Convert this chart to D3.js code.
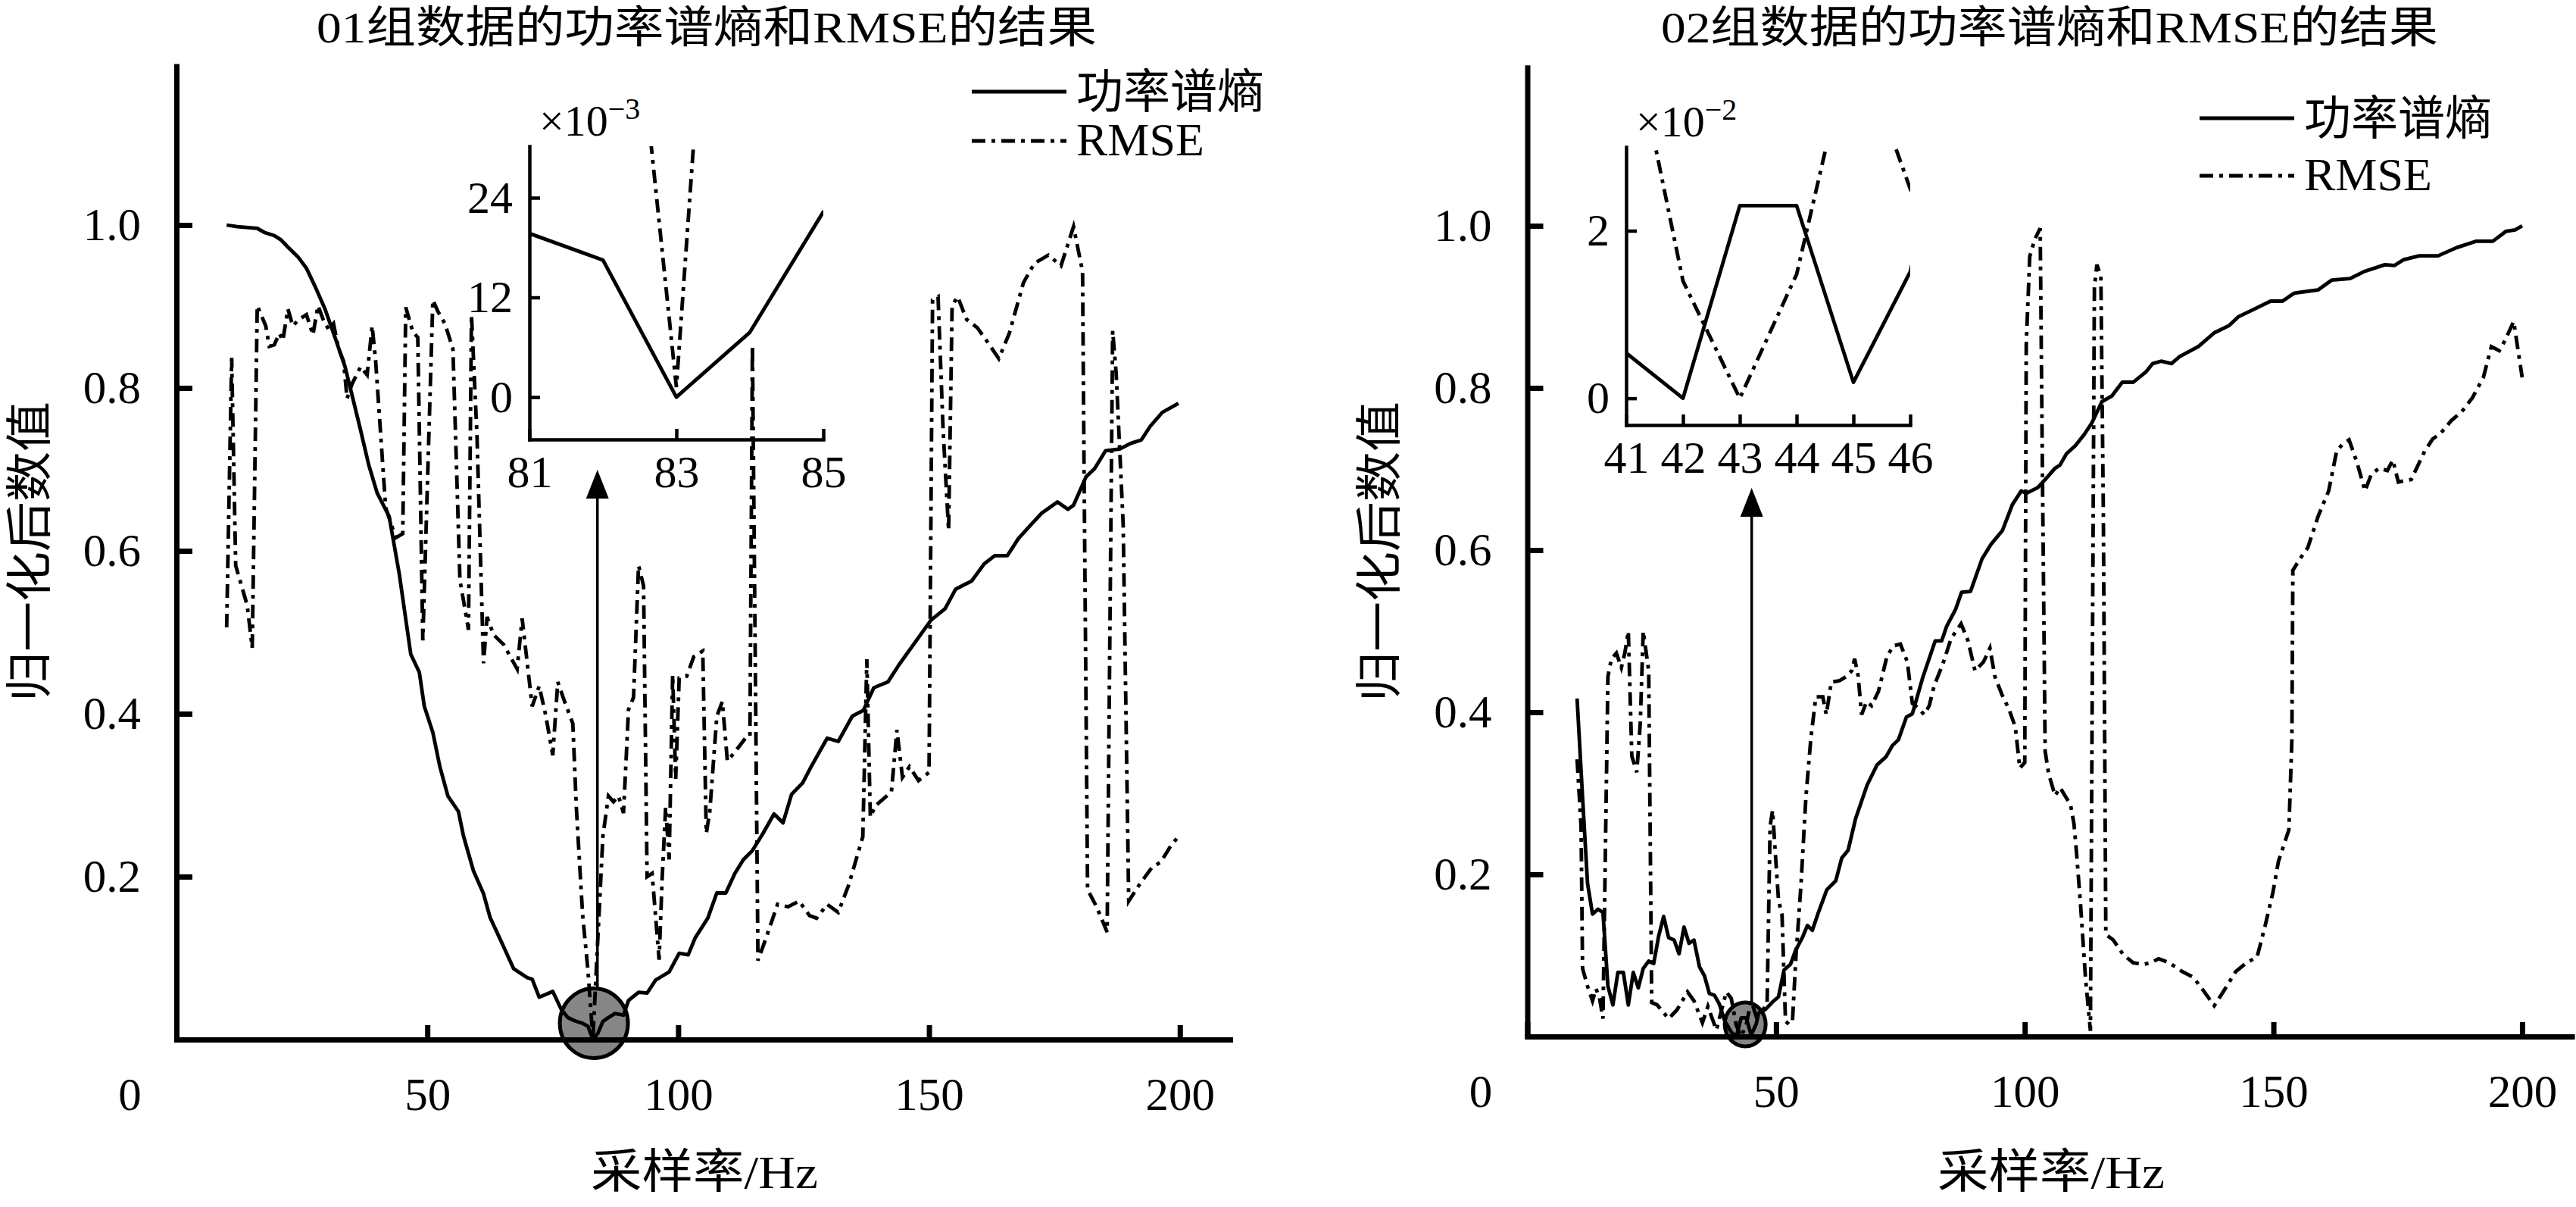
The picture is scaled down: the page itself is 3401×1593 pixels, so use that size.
<!DOCTYPE html>
<html>
<head>
<meta charset="utf-8">
<script src="https://cdn.jsdelivr.net/npm/d3@7"></script>
<style>
    body { margin: 0; background: #fff; }
    svg { display: block; }
    text { font-family: "Liberation Serif", "Noto Sans CJK SC", serif; fill: #000; }
</style>
</head>
<body>
<div id="chart"></div>
<script>
// ---- data: [sampling rate Hz, normalised value] ----
var freqTicks = [0, 50, 100, 150, 200];
var valueTicks = [0.2, 0.4, 0.6, 0.8, 1.0];
var titles = ["01组数据的功率谱熵和RMSE的结果", "02组数据的功率谱熵和RMSE的结果"];
var seriesNames = ["功率谱熵", "RMSE"];

var entropy01 = [[10,1.0],[12.1,0.998],[16.1,0.996],[17.5,0.991],[19.5,0.987],[20.8,0.982],[22.2,0.973],[24.2,0.961],[25.9,0.947],[27.6,0.925],[29.6,0.897],[31.6,0.862],[33.6,0.826],[35.0,0.791],[36.7,0.748],[38.3,0.706],[40.0,0.671],[42.4,0.642],[44.4,0.572],[46.7,0.473],[48.4,0.451],[49.4,0.409],[51.1,0.377],[52.5,0.335],[54.1,0.299],[56.2,0.280],[57.2,0.250],[59.2,0.207],[61.2,0.179],[62.5,0.150],[64.6,0.122],[67.2,0.087],[69.9,0.076],[70.9,0.074],[72.3,0.052],[75.0,0.059],[76.7,0.037],[78.0,0.027],[79.4,0.023],[81,0.0197],[82,0.0165],[83,0],[84,0.0078],[85,0.0223],[86.1,0.027],[87.4,0.032],[89.1,0.030],[90.1,0.048],[92.1,0.058],[93.8,0.057],[95.5,0.073],[98.2,0.083],[100.2,0.106],[102.0,0.104],[103.4,0.125],[105.9,0.149],[107.7,0.180],[109.5,0.180],[111.3,0.204],[113.0,0.221],[114.8,0.232],[116.9,0.253],[119.1,0.277],[120.9,0.266],[122.6,0.301],[124.8,0.315],[126.5,0.335],[129.7,0.370],[131.9,0.366],[134.7,0.397],[136.9,0.404],[139.0,0.432],[141.8,0.439],[144.0,0.460],[146.8,0.484],[150.4,0.515],[153.2,0.529],[155.3,0.553],[158.5,0.563],[161.0,0.584],[163.1,0.594],[165.6,0.594],[167.8,0.615],[170.3,0.632],[172.4,0.646],[175.6,0.660],[177.7,0.651],[178.8,0.656],[181.3,0.691],[183.0,0.701],[185.2,0.723],[188.0,0.725],[190.2,0.732],[192.3,0.736],[194.1,0.753],[196.5,0.770],[199.7,0.781]];

var rmse01 = [[10,0.506],[11,0.837],[11.8,0.582],[14.1,0.533],[15.1,0.481],[16.1,0.901],[17.8,0.876],[18.5,0.851],[19.5,0.853],[20.5,0.867],[21.2,0.858],[22.2,0.897],[23.2,0.876],[24.2,0.883],[25.9,0.890],[27.2,0.865],[28.2,0.901],[29.3,0.883],[30.3,0.872],[31.3,0.879],[32.3,0.848],[33.3,0.833],[34.0,0.787],[35.0,0.805],[36.7,0.826],[38.0,0.816],[39.0,0.876],[39.7,0.833],[41.7,0.653],[43.7,0.616],[45.1,0.621],[45.7,0.899],[47.1,0.869],[48.1,0.862],[49.1,0.490],[51.1,0.908],[52.1,0.894],[53.5,0.879],[55.1,0.848],[56.5,0.564],[57.8,0.518],[58.2,0.503],[58.8,0.890],[59.9,0.741],[61.2,0.462],[61.9,0.519],[63.2,0.497],[65.2,0.485],[67.9,0.455],[68.9,0.517],[70.9,0.409],[72.3,0.434],[73.6,0.398],[75.0,0.349],[76.0,0.439],[77.3,0.416],[79.0,0.388],[79.7,0.285],[80.7,0.179],[81,0.150],[82,0.086],[83,0.0012],[84,0.126],[85,0.250],[86.1,0.299],[87.1,0.292],[88.1,0.299],[89.1,0.278],[90.1,0.405],[91.1,0.420],[92.1,0.582],[93.1,0.557],[93.8,0.200],[94.8,0.204],[96.2,0.098],[96.8,0.197],[97.5,0.285],[98.2,0.221],[98.9,0.448],[99.5,0.320],[100.2,0.444],[101.7,0.446],[103.1,0.470],[104.9,0.477],[105.6,0.253],[106.3,0.280],[107.7,0.397],[108.8,0.415],[109.8,0.342],[111.3,0.353],[113.4,0.370],[114.3,0.372],[114.8,0.853],[115.9,0.097],[117.7,0.128],[119.8,0.166],[121.9,0.163],[124.1,0.170],[126.2,0.152],[127.6,0.149],[129.7,0.166],[131.9,0.156],[134.0,0.190],[136.8,0.249],[137.6,0.467],[138.3,0.273],[139.3,0.287],[142.5,0.304],[143.6,0.380],[144.7,0.322],[146.1,0.335],[147.9,0.318],[150.0,0.328],[150.7,0.908],[151.8,0.912],[152.8,0.749],[153.9,0.625],[154.6,0.901],[155.7,0.912],[157.5,0.884],[159.6,0.874],[161.7,0.856],[163.9,0.836],[166.0,0.867],[168.8,0.929],[171.0,0.953],[173.8,0.963],[176.3,0.950],[178.8,0.998],[180.6,0.943],[180.9,0.701],[181.6,0.184],[183.4,0.163],[185.5,0.132],[186.6,0.870],[187.3,0.818],[188.7,0.632],[189.8,0.170],[191.9,0.190],[194.4,0.211],[196.2,0.218],[198.3,0.239],[199.7,0.249]];

var entropy02 = [[10,0.417],[11.1,0.295],[12.1,0.189],[13.1,0.151],[14.2,0.157],[15.2,0.153],[16.2,0.062],[17.2,0.039],[18.2,0.079],[19.3,0.079],[20.3,0.039],[21.3,0.079],[22.3,0.060],[23.3,0.084],[24.4,0.093],[25.4,0.090],[26.4,0.124],[27.4,0.148],[28.4,0.122],[29.5,0.119],[30.5,0.102],[31.5,0.135],[32.5,0.115],[33.5,0.119],[34.6,0.086],[35.6,0.075],[36.6,0.053],[37.6,0.051],[38.6,0.040],[39.7,0.019],[41,0.0054],[42,0],[43,0.023],[44,0.023],[45,0.0019],[46,0.0151],[46.5,0.029],[47.8,0.033],[49.2,0.042],[50.5,0.049],[51.6,0.082],[52.9,0.089],[53.9,0.106],[55.3,0.122],[56.3,0.137],[57.3,0.131],[58.4,0.151],[60.2,0.181],[62.0,0.192],[63.2,0.220],[64.5,0.230],[66.0,0.269],[68.3,0.310],[70.3,0.335],[72.1,0.345],[73.4,0.359],[74.6,0.366],[76.2,0.394],[77.4,0.398],[79.5,0.443],[82.0,0.488],[83.3,0.488],[84.3,0.506],[86.1,0.527],[87.3,0.548],[89.1,0.549],[91.4,0.589],[93.2,0.607],[95.5,0.624],[97.5,0.656],[99.3,0.673],[100.3,0.670],[102.6,0.677],[104.1,0.687],[106.1,0.701],[107.1,0.705],[108.4,0.719],[110.2,0.729],[112.0,0.743],[113.5,0.757],[115.5,0.783],[117.5,0.790],[119.6,0.807],[121.8,0.807],[124.4,0.820],[125.7,0.830],[127.4,0.833],[129.5,0.830],[131.2,0.839],[134.9,0.851],[138.1,0.868],[141.1,0.877],[143.0,0.888],[146.4,0.898],[149.4,0.907],[151.8,0.907],[154.2,0.917],[159.0,0.921],[161.7,0.933],[165.4,0.935],[168.4,0.944],[172.4,0.952],[174.3,0.951],[176.1,0.958],[179.3,0.963],[183.1,0.963],[186.8,0.973],[190.8,0.981],[194.1,0.981],[196.7,0.993],[198.6,0.995],[200,1.0]];

var rmse02 = [[10,0.342],[10.8,0.259],[11.1,0.084],[12.1,0.062],[13.1,0.044],[13.8,0.059],[14.5,0.048],[15.2,0.022],[16.2,0.444],[16.9,0.466],[17.9,0.473],[18.9,0.455],[19.6,0.473],[20.3,0.500],[21.0,0.346],[22.0,0.326],[22.7,0.386],[23.3,0.500],[24.4,0.451],[25.0,0.042],[26.1,0.039],[28.4,0.022],[30.1,0.033],[32.2,0.055],[33.5,0.044],[35.2,0.017],[36.3,0.037],[38.0,0.008],[40.0,0.055],[41,0.047],[42,0.014],[43,0],[44,0.0148],[45,0.044],[46,0.025],[47,0.030],[48.2,0.040],[48.8,0.259],[49.3,0.279],[49.9,0.222],[50.5,0.168],[51.2,0.150],[51.9,0.019],[52.6,0.015],[53.3,0.019],[54.0,0.099],[55.0,0.186],[56.0,0.295],[57.0,0.368],[58.0,0.419],[59.4,0.419],[60.1,0.397],[61.1,0.437],[62.8,0.439],[64.1,0.444],[65.2,0.451],[65.8,0.466],[66.5,0.445],[67.2,0.397],[68.2,0.413],[69.2,0.408],[70.6,0.426],[72.3,0.469],[73.6,0.482],[75.0,0.484],[76.4,0.462],[77.4,0.411],[78.4,0.406],[79.8,0.397],[80.8,0.408],[81.8,0.433],[83.5,0.459],[85.2,0.491],[87.2,0.509],[88.6,0.488],[90.0,0.451],[91.7,0.462],[93.0,0.479],[94.0,0.444],[95.4,0.422],[96.8,0.404],[98.1,0.382],[99.0,0.331],[100.0,0.338],[100.3,0.854],[101.0,0.962],[102.0,0.983],[103.1,0.997],[103.6,0.666],[104.1,0.352],[104.8,0.324],[106.1,0.297],[107.1,0.307],[109.2,0.286],[109.9,0.262],[110.4,0.227],[111.2,0.164],[112.2,0.073],[113.2,0.007],[114.0,0.924],[114.5,0.952],[115.3,0.938],[115.8,0.645],[116.3,0.126],[117.8,0.119],[119.8,0.101],[121.8,0.091],[123.9,0.089],[125.4,0.091],[126.9,0.096],[129.0,0.091],[131.7,0.080],[133.9,0.073],[136.0,0.056],[138.1,0.038],[140.3,0.059],[142.4,0.080],[144.6,0.091],[146.7,0.098],[148.3,0.136],[149.9,0.178],[151.0,0.216],[153.1,0.255],[153.7,0.366],[153.9,0.575],[155.3,0.589],[156.9,0.603],[159.0,0.642],[161.1,0.673],[162.7,0.722],[163.8,0.730],[165.2,0.736],[166.8,0.708],[168.4,0.673],[169.7,0.694],[171.3,0.701],[172.9,0.698],[174.0,0.711],[175.1,0.684],[177.7,0.687],[180.4,0.722],[182.0,0.737],[183.6,0.744],[185.8,0.760],[187.9,0.771],[190.0,0.788],[192.2,0.813],[193.8,0.851],[195.4,0.846],[196.5,0.858],[198.3,0.882],[200,0.813]];

// zoomed windows
var zoom01TicksX = [81, 83, 85];
var zoom01TicksY = [0, 0.012, 0.024];
var zoom02TicksX = [41, 42, 43, 44, 45, 46];
var zoom02TicksY = [0, 0.02];
// highlighted minimum (Hz, value)
var minPoint01 = [83.2, 0.02];
var minPoint02 = [43.8, 0.015];

var DASHDOT = "18,8,5,8";

/**
 *  Layout of each panel (pixels)
 */
var panels = [
    {
        title: titles[0], entropy: entropy01, rmse: rmse01,
        xr: [233, 1624], y0: 1372, y1: 297, titleX: 933, titleW: 1030,
        ylabX: 40, xlabX: 930,
        legX: 1283, legY: [121, 186],
        mark: minPoint01, markR: [45, 46], arrowF: 83.9, arrowTip: 620,
        zoom: {dx: [81, 85], xr: [699, 1087], dy: [-0.0051, 0.0302], yr: [580, 193],
               ticksX: zoom01TicksX, ticksY: zoom01TicksY, mult: 1000, exp: "−3", labX: 712}
    },
    {
        title: titles[1], entropy: entropy02, rmse: rmse02,
        xr: [2016.5, 3395.6], y0: 1368, y1: 298, titleX: 2706, titleW: 1026,
        ylabX: 1822, xlabX: 2708,
        legX: 2904, legY: [156, 232],
        mark: minPoint02, markR: [27, 29], arrowF: 45.1, arrowTip: 644,
        zoom: {dx: [41, 46], xr: [2147, 2522], dy: [-0.0032, 0.0300], yr: [561, 194],
               ticksX: zoom02TicksX, ticksY: zoom02TicksY, mult: 100, exp: "−2", labX: 2160}
    }
];

var svg = d3.select("#chart").append("svg")
    .attr("width", 3401)
    .attr("height", 1593);

panels.forEach(function (p, pi) {
    var x = d3.scaleLinear().domain([0, 210]).range(p.xr);
    var yPer = p.y0 - p.y1;
    var y = d3.scaleLinear().domain([0, 1]).range([p.y0, p.y1]);
    var yTop = 1.195;
    var g = svg.append("g");

    // title + axis labels
    g.append("text")
        .attr("x", p.titleX).attr("y", 56)
        .attr("text-anchor", "middle")
        .attr("font-size", 58)
        .attr("textLength", p.titleW).attr("lengthAdjust", "spacingAndGlyphs")
        .text(p.title);

    g.append("text")
        .attr("x", p.xlabX).attr("y", 1568)
        .attr("text-anchor", "middle")
        .attr("font-size", 62)
        .attr("textLength", 300).attr("lengthAdjust", "spacingAndGlyphs")
        .text("采样率/Hz");

    g.append("text")
        .attr("transform", "translate(" + p.ylabX + "," + 728 + ") rotate(-90)")
        .attr("text-anchor", "middle")
        .attr("dominant-baseline", "central")
        .attr("font-size", 62)
        .attr("textLength", 396).attr("lengthAdjust", "spacingAndGlyphs")
        .text("归一化后数值");

    // highlighted minimum (behind the curves)
    g.append("ellipse")
        .attr("cx", x(p.mark[0])).attr("cy", y(p.mark[1]))
        .attr("rx", p.markR[0]).attr("ry", p.markR[1])
        .attr("fill", "#868686").attr("stroke", "#000").attr("stroke-width", 5);

    // main axes
    var yAxisScale = d3.scaleLinear().domain([0, yTop]).range([p.y0, p.y0 - yTop * yPer]);
    var yAxis = g.append("g")
        .attr("transform", "translate(" + p.xr[0] + ",0)")
        .call(d3.axisLeft(yAxisScale).tickValues(valueTicks).tickSize(-21).tickSizeOuter(0)
            .tickPadding(47).tickFormat(d3.format(".1f")));
    var xAxis = g.append("g")
        .attr("transform", "translate(0," + p.y0 + ")")
        .call(d3.axisBottom(x).tickValues(freqTicks).tickSize(-19).tickSizeOuter(0)
            .tickPadding(50).tickFormat(d3.format("d")));
    [yAxis, xAxis].forEach(function (ax) {
        ax.select(".domain").attr("stroke-width", 7).attr("stroke-linecap", "square");
        ax.selectAll(".tick line").attr("stroke-width", 7);
        ax.selectAll("text").attr("font-size", 61);
        ax.attr("font-family", null);
    });
    xAxis.selectAll(".tick").filter(function (d) { return d === 0; })
        .select("text").attr("x", -62);

    // curves
    var line = d3.line().x(function (d) { return x(d[0]); }).y(function (d) { return y(d[1]); });
    g.append("path").datum(p.entropy)
        .attr("d", line).attr("fill", "none").attr("stroke", "#000")
        .attr("stroke-width", 4.8).attr("stroke-linejoin", "round");
    g.append("path").datum(p.rmse)
        .attr("d", line).attr("fill", "none").attr("stroke", "#000")
        .attr("stroke-width", 4.8).attr("stroke-dasharray", DASHDOT);

    // arrow from the marked minimum up to the zoom window
    var ax0 = x(p.arrowF);
    var aBottom = y(p.mark[1]) - p.markR[1];
    g.append("line")
        .attr("x1", ax0).attr("y1", aBottom)
        .attr("x2", ax0).attr("y2", p.arrowTip + 30)
        .attr("stroke", "#000").attr("stroke-width", 3.5);
    g.append("path")
        .attr("d", "M" + ax0 + "," + p.arrowTip + " L" + (ax0 - 15) + "," + (p.arrowTip + 38) +
            " L" + (ax0 + 15) + "," + (p.arrowTip + 38) + " Z")
        .attr("fill", "#000");

    // legend
    seriesNames.forEach(function (name, i) {
        g.append("line")
            .attr("x1", p.legX).attr("x2", p.legX + 125)
            .attr("y1", p.legY[i]).attr("y2", p.legY[i])
            .attr("stroke", "#000").attr("stroke-width", 5)
            .attr("stroke-dasharray", i === 0 ? null : DASHDOT);
        g.append("text")
            .attr("x", p.legX + 138).attr("y", p.legY[i] + (i === 0 ? 22 : 19))
            .attr("font-size", 62)
            .text(name);
    });

    // zoom window (transparent, only left and bottom axes)
    var z = p.zoom;
    var zx = d3.scaleLinear().domain(z.dx).range(z.xr);
    var zy = d3.scaleLinear().domain(z.dy).range(z.yr);
    var clipId = "zclip" + pi;
    svg.append("clipPath").attr("id", clipId)
        .append("rect")
        .attr("x", z.xr[0]).attr("y", z.yr[1])
        .attr("width", z.xr[1] - z.xr[0]).attr("height", z.yr[0] - z.yr[1]);

    var zg = g.append("g");
    var zAxisY = zg.append("g")
        .attr("transform", "translate(" + z.xr[0] + ",0)")
        .call(d3.axisLeft(zy).tickValues(z.ticksY).tickSize(-14).tickSizeOuter(0)
            .tickPadding(22).tickFormat(function (d) { return Math.round(d * z.mult); }));
    var zAxisX = zg.append("g")
        .attr("transform", "translate(0," + z.yr[0] + ")")
        .call(d3.axisBottom(zx).tickValues(z.ticksX).tickSize(-14).tickSizeOuter(0)
            .tickPadding(20).tickFormat(d3.format("d")));
    [zAxisY, zAxisX].forEach(function (ax) {
        ax.select(".domain").attr("stroke-width", 4.5).attr("stroke-linecap", "square");
        ax.selectAll(".tick line").attr("stroke-width", 4.5);
        ax.selectAll("text").attr("font-size", 60);
        ax.attr("font-family", null);
    });

    var zline = d3.line().x(function (d) { return zx(d[0]); }).y(function (d) { return zy(d[1]); });
    var zc = zg.append("g").attr("clip-path", "url(#" + clipId + ")");
    zc.append("path").datum(p.entropy)
        .attr("d", zline).attr("fill", "none").attr("stroke", "#000")
        .attr("stroke-width", 4.8).attr("stroke-linejoin", "round");
    zc.append("path").datum(p.rmse)
        .attr("d", zline).attr("fill", "none").attr("stroke", "#000")
        .attr("stroke-width", 4.8).attr("stroke-dasharray", DASHDOT);

    var exp = zg.append("text")
        .attr("x", z.labX).attr("y", z.yr[1] - 14)
        .attr("font-size", 58);
    exp.append("tspan").text("×10");
    exp.append("tspan").attr("dy", -22).attr("font-size", 40).text(z.exp);
});
</script>
</body>
</html>
